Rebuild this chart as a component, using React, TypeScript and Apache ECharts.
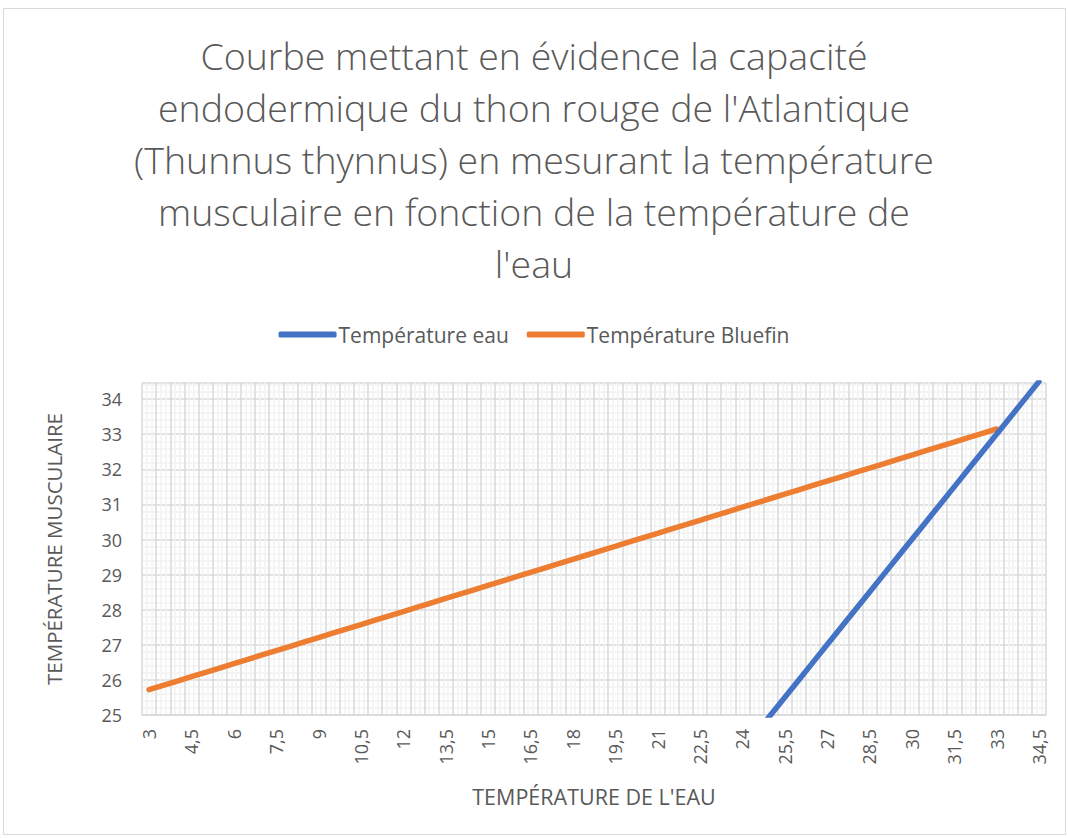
import React, { useEffect, useRef } from "react";
import * as echarts from "echarts";

const categories: string[] = [
  "3", "3,5", "4", "4,5", "5", "5,5", "6", "6,5", "7", "7,5", "8", "8,5", "9", "9,5", "10", "10,5",
  "11", "11,5", "12", "12,5", "13", "13,5", "14", "14,5", "15", "15,5", "16", "16,5", "17", "17,5",
  "18", "18,5", "19", "19,5", "20", "20,5", "21", "21,5", "22", "22,5", "23", "23,5", "24", "24,5",
  "25", "25,5", "26", "26,5", "27", "27,5", "28", "28,5", "29", "29,5", "30", "30,5", "31", "31,5",
  "32", "32,5", "33", "33,5", "34", "34,5",
];

const waterTemp: number[] = [
  3, 3.5, 4, 4.5, 5, 5.5, 6, 6.5, 7, 7.5, 8, 8.5, 9, 9.5, 10, 10.5,
  11, 11.5, 12, 12.5, 13, 13.5, 14, 14.5, 15, 15.5, 16, 16.5, 17, 17.5,
  18, 18.5, 19, 19.5, 20, 20.5, 21, 21.5, 22, 22.5, 23, 23.5, 24, 24.5,
  25, 25.5, 26, 26.5, 27, 27.5, 28, 28.5, 29, 29.5, 30, 30.5, 31, 31.5,
  32, 32.5, 33, 33.5, 34, 34.5,
];

const bluefinTemp: (number | null)[] = [
  25.72, 25.844, 25.968, 26.091, 26.215, 26.339, 26.463, 26.587, 26.711, 26.834, 26.958, 27.082, 27.206, 27.33, 27.454, 27.577,
  27.701, 27.825, 27.949, 28.073, 28.197, 28.32, 28.444, 28.568, 28.692, 28.816, 28.94, 29.063, 29.187, 29.311,
  29.435, 29.559, 29.683, 29.806, 29.93, 30.054, 30.178, 30.302, 30.426, 30.549, 30.673, 30.797, 30.921, 31.045,
  31.169, 31.292, 31.416, 31.54, 31.664, 31.788, 31.912, 32.035, 32.159, 32.283, 32.407, 32.531, 32.655, 32.778,
  32.902, 33.026, 33.15, null, null, null,
];

const titleText =
  "Courbe mettant en évidence la capacité\nendodermique du thon rouge de l'Atlantique\n(Thunnus thynnus) en mesurant la température\nmusculaire en fonction de la température de\nl'eau";

const FONT = "'Open Sans', 'Noto Sans', sans-serif";
const TEXT = "#595959";

export default function App() {
  const ref = useRef<HTMLDivElement>(null);
  useEffect(() => {
    if (!ref.current) return;
    const chart = echarts.init(ref.current, undefined, { renderer: "svg" });
    chart.setOption({
      animation: false,
      backgroundColor: "#ffffff",
      textStyle: { fontFamily: FONT },
      graphic: [
        {
          type: "rect",
          shape: { x: 3.5, y: 8.5, width: 1062, height: 826 },
          style: { fill: "none", stroke: "#d9d9d9", lineWidth: 1 },
          silent: true,
        },
      ],
      title: {
        text: titleText,
        left: "center",
        top: 24,
        textStyle: {
          fontFamily: FONT,
          fontSize: 37.5,
          fontWeight: 300,
          color: TEXT,
          lineHeight: 52,
        },
      },
      legend: {
        top: 319,
        left: "center",
        icon: "roundRect",
        itemWidth: 58,
        itemHeight: 6,
        itemGap: 18,
        textStyle: { fontFamily: FONT, fontSize: 21, color: TEXT, padding: [0, 0, 0, -3] },
        data: ["Température eau", "Température Bluefin"],
      },
      grid: { left: 142, top: 383, width: 904, height: 332 },
      xAxis: [
        {
          type: "category",
          data: categories,
          boundaryGap: true,
          position: "bottom",
          axisLine: { show: true, lineStyle: { color: "#d9d9d9", width: 1.5 } },
          axisTick: { show: false },
          splitLine: { show: false },
          axisLabel: {
            interval: 2,
            rotate: 90,
            margin: 14,
            fontSize: 18,
            color: TEXT,
            fontFamily: FONT,
          },
          name: "TEMPÉRATURE DE L'EAU",
          nameLocation: "middle",
          nameGap: 70,
          nameTextStyle: { fontSize: 21.5, color: TEXT, fontFamily: FONT },
        },
        {
          type: "value",
          min: 0,
          max: 64,
          interval: 1,
          position: "bottom",
          axisLine: { show: false },
          axisTick: { show: false },
          axisLabel: { show: false },
          splitLine: { show: true, lineStyle: { color: "#d9d9d9", width: 1.5 } },
          minorTick: { show: false, splitNumber: 3 },
          minorSplitLine: { show: true, lineStyle: { color: "#f2f2f2", width: 1.5 } },
        },
      ],
      yAxis: {
        type: "value",
        min: 25,
        max: 34.46,
        interval: 1,
        axisLine: { show: false },
        axisTick: { show: false },
        axisLabel: {
          fontSize: 18,
          color: TEXT,
          margin: 20,
          fontFamily: FONT,
          formatter: (v: number) => (Number.isInteger(v) ? String(v) : ""),
        },
        splitLine: { show: true, lineStyle: { color: "#d9d9d9", width: 1.5 } },
        minorTick: { show: false, splitNumber: 5 },
        minorSplitLine: { show: true, lineStyle: { color: "#f2f2f2", width: 1.5 } },
        name: "TEMPÉRATURE MUSCULAIRE",
        nameLocation: "middle",
        nameRotate: 90,
        nameGap: 78,
        nameTextStyle: { fontSize: 20.5, color: TEXT, fontFamily: FONT },
      },
      series: [
        {
          name: "Température eau",
          type: "line",
          xAxisIndex: 0,
          data: waterTemp,
          showSymbol: false,
          symbol: "none",
          color: "#4472c4",
          lineStyle: { color: "#4472c4", width: 5.5, cap: "round" },
          z: 3,
        },
        {
          name: "Température Bluefin",
          type: "line",
          xAxisIndex: 0,
          data: bluefinTemp,
          showSymbol: false,
          symbol: "none",
          color: "#ed7d31",
          lineStyle: { color: "#ed7d31", width: 5.5, cap: "round" },
          z: 2,
        },
      ],
    });
    return () => chart.dispose();
  }, []);
  return (
    <div
      ref={ref}
      style={{ position: "absolute", left: 0, top: 0, width: 1068, height: 838 }}
    />
  );
}
